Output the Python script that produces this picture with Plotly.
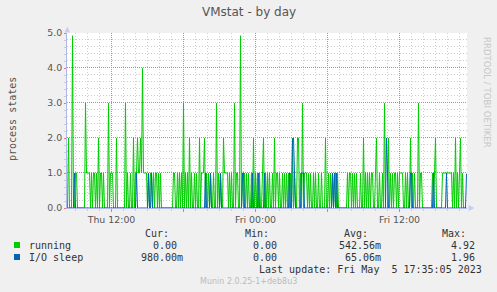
import datetime as dt
import plotly.graph_objects as go

# ---------------- data (5-minute samples, Thu 4 May 2023 08:20 -> Fri 5 May 17:35) -------------
start_time = dt.datetime(2023, 5, 4, 8, 20)
step_minutes = 5

running = [
    0, 2, 0, 0, 0, 4.92, 0, 0, 1, 1, 0, 0, 0, 0, 0, 0, 0, 0, 3, 1,
    1, 1, 1, 0, 1, 0, 1, 1, 0, 1, 0, 2, 0, 1, 1, 0, 1, 0, 0, 0,
    0, 3, 0, 1, 1, 1, 0, 0, 0, 2, 0, 0, 0, 0, 0, 0, 0, 0, 3, 0,
    1, 0, 0, 1, 0, 0, 2, 0, 1, 1, 2, 1, 1, 2, 1, 4, 1, 1, 1, 1,
    0, 1, 0, 1, 1, 0, 1, 0, 1, 1, 0, 1, 0, 1, 0, 0, 0, 0, 0, 0,
    0, 0, 0, 0, 0, 0, 1, 1, 0, 0, 1, 0, 1, 0, 1, 0, 3, 0, 1, 0,
    1, 0, 2, 0, 1, 0, 0, 1, 0, 1, 0, 0, 2, 0, 1, 1, 1, 2, 0, 1,
    0, 1, 0, 1, 0, 0, 1, 0, 0, 3, 0, 1, 0, 1, 0, 0, 2, 1, 1, 1,
    1, 0, 1, 0, 1, 0, 0, 3, 0, 1, 1, 0, 0, 4.92, 0, 1, 0, 1, 0, 1,
    0, 1, 0, 0, 1, 0, 2, 0, 1, 0, 1, 0, 1, 0, 0, 1, 2, 0, 1, 0,
    1, 0, 1, 0, 0, 1, 0, 2, 0, 1, 1, 0, 1, 0, 0, 1, 0, 1, 0, 1,
    0, 1, 0, 1, 0, 2, 0, 1, 0, 0, 2, 2, 0, 1, 0, 3, 0, 1, 1, 1,
    0, 1, 0, 1, 0, 0, 1, 0, 1, 0, 0, 1, 0, 0, 1, 0, 0, 0, 2, 0,
    0, 1, 0, 1, 0, 1, 0, 1, 1, 0, 1, 0, 0, 0, 0, 0, 0, 0, 0, 0,
    1, 0, 1, 1, 0, 1, 0, 1, 0, 1, 0, 0, 0, 1, 0, 0, 2, 0, 1, 0,
    1, 0, 1, 0, 1, 1, 0, 0, 1, 2, 0, 0, 1, 0, 0, 1, 0, 3, 0, 0,
    0, 2, 0, 1, 0, 1, 0, 1, 1, 0, 1, 0, 1, 1, 1, 1, 0, 0, 1, 0,
    1, 0, 0, 2, 0, 1, 0, 1, 0, 0, 0, 3, 0, 1, 1, 0, 0, 0, 0, 0,
    0, 0, 0, 0, 0, 1, 0, 1, 2, 0, 0, 0, 0, 0, 0, 1, 1, 1, 1, 1,
    1, 1, 1, 1, 1, 0, 1, 0, 2, 0, 1, 0, 1, 2, 0, 1, 0, 0, 0, 0,
]

io_sleep = [
    0, 0, 0, 0, 0, 0, 0, 1, 0, 0, 0, 0, 0, 0, 0, 0, 0, 0, 0, 0,
    0, 0, 0, 0, 0, 0, 0, 0, 0, 0, 0, 0, 0, 0, 0, 0, 0, 0, 0, 0,
    0, 0, 0, 0, 0, 0, 0, 0, 0, 0, 0, 0, 0, 0, 0, 0, 0, 0, 0, 0,
    0, 0, 0, 0, 0, 0, 0, 0, 0, 1, 0, 0, 0, 0, 0, 0, 0, 0, 0, 0,
    0, 1, 0, 0, 1, 0, 0, 0, 0, 0, 0, 0, 0, 0, 0, 0, 0, 0, 0, 0,
    0, 0, 0, 0, 0, 0, 0, 0, 0, 0, 0, 0, 0, 0, 0, 0, 0, 0, 0, 0,
    0, 0, 0, 0, 0, 0, 0, 0, 0, 0, 0, 0, 0, 0, 0, 0, 0, 0, 1, 0,
    0, 0, 0, 1, 0, 0, 0, 0, 0, 0, 0, 0, 0, 1, 0, 0, 0, 0, 0, 0,
    0, 0, 0, 0, 0, 0, 0, 0, 0, 0, 0, 0, 0, 0, 0, 1, 1, 0, 0, 0,
    0, 0, 0, 0, 0, 1, 0, 0, 0, 0, 0, 1, 0, 0, 0, 0, 0, 1, 0, 0,
    0, 0, 0, 0, 0, 0, 0, 0, 0, 0, 0, 0, 0, 0, 0, 0, 0, 0, 0, 0,
    0, 0, 1, 0, 0, 1.96, 2, 1, 0, 0, 0, 0, 0, 0, 1, 1, 1, 0, 0, 0,
    0, 0, 0, 0, 0, 0, 0, 0, 0, 0, 0, 0, 0, 0, 0, 0, 0, 0, 0, 0,
    0, 0, 0, 0, 0, 1, 0, 1, 0, 1, 0, 0, 0, 0, 0, 0, 0, 0, 0, 0,
    0, 0, 0, 0, 0, 0, 0, 0, 0, 0, 0, 0, 0, 0, 0, 0, 0, 0, 0, 0,
    0, 0, 0, 0, 0, 0, 0, 0, 0, 0, 0, 0, 0, 0, 0, 0, 0, 0, 0, 2,
    1, 0, 0, 0, 0, 0, 0, 0, 0, 0, 0, 0, 0, 0, 0, 0, 0, 0, 0, 0,
    0, 0, 0, 1, 1, 0, 0, 0, 0, 0, 0, 0, 0, 0, 0, 0, 0, 0, 0, 0,
    0, 0, 0, 0, 0, 0, 1, 0, 0, 0, 0, 0, 0, 0, 0, 0, 0, 0, 0, 1,
    0, 0, 0, 0, 0, 0, 0, 0, 0, 0, 0, 0, 0, 0, 0, 0, 0, 0, 0, 0.98,
]

series_names = ["running", "I/O sleep"]
series_colors = ["#00CC00", "#0066B3"]
stat_headers = ["Cur:", "Min:", "Avg:", "Max:"]
stats_running = ["0.00", "0.00", "542.56m", "4.92"]
stats_io = ["980.00m", "0.00", "65.06m", "1.96"]
x_tickvals = ["2023-05-04 12:00", "2023-05-04 18:00", "2023-05-05 00:00",
              "2023-05-05 06:00", "2023-05-05 12:00"]
x_ticktext = ["Thu 12:00", "", "Fri 00:00", "", "Fri 12:00"]
y_tickvals = [0, 1, 2, 3, 4, 5]
y_range = [0, 5]
title_text = "VMstat - by day"
y_label = "process states"
last_update = "Last update: Fri May  5 17:35:05 2023"
version_text = "Munin 2.0.25-1+deb8u3"
watermark = "RRDTOOL / TOBI OETIKER"

# ---------------- layout geometry (pixels) ----------------
W, H = 497, 292
PL, PR, PT, PB = 67, 467, 33, 208   # plot area edges

def px(x):
    return (x - PL) / (PR - PL)

def py(y):
    return (PB - y) / (PB - PT)

times = [start_time + dt.timedelta(minutes=step_minutes * i) for i in range(len(running))]
half = dt.timedelta(minutes=step_minutes / 2)
x_range = [times[0] - half, times[-1] + half]

fig = go.Figure()
fig.add_trace(go.Scatter(x=times, y=running, mode="lines",
                         line=dict(color=series_colors[0], width=1), hoverinfo="skip"))
fig.add_trace(go.Scatter(x=times, y=io_sleep, mode="lines",
                         line=dict(color=series_colors[1], width=1), hoverinfo="skip"))

MAJ = "#FF7070"
MIN = "#CDCDCD"
AXC = "#AEB8EA"
tick_font = dict(family="DejaVu Sans", size=9.4, color="#555555")

fig.update_layout(
    width=W, height=H,
    margin=dict(l=PL, r=W - PR, t=PT, b=H - PB, pad=0),
    paper_bgcolor="#F0F0F0", plot_bgcolor="rgba(0,0,0,0)",
    showlegend=False,
    xaxis=dict(
        type="date", range=x_range, tickvals=x_tickvals, ticktext=x_ticktext,
        showgrid=False,
        ticks="outside", ticklen=3, tickcolor=MAJ, tickfont=tick_font,
        showline=True, linecolor=AXC, linewidth=1, zeroline=False,
        minor=dict(dtick=3600000, tick0="2023-05-04 00:00", showgrid=False,
                   ticks="outside", ticklen=2, tickcolor=MIN),
        fixedrange=True,
    ),
    yaxis=dict(
        range=y_range, tickvals=y_tickvals, tickformat=".1f",
        showgrid=False,
        ticks="outside", ticklen=2, tickcolor=MAJ, tickfont=tick_font,
        showline=True, linecolor=AXC, linewidth=1, zeroline=False,
        minor=dict(dtick=0.2, tick0=0, showgrid=False,
                   ticks="outside", ticklen=2, tickcolor=MIN),
        fixedrange=True,
    ),
)

ann = []
def text(x, y, s, size=10, family="DejaVu Sans Mono", color="#333333", xanchor="left", angle=0):
    ann.append(dict(x=px(x), y=py(y), xref="paper", yref="paper", text=s, showarrow=False,
                    xanchor=xanchor, yanchor="middle", textangle=angle,
                    font=dict(family=family, size=size, color=color)))

text(248.5, 12, title_text, size=12, family="DejaVu Sans", color="#555555", xanchor="center")
text(12, 119, y_label, size=10, family="DejaVu Sans Mono", color="#555555", xanchor="center", angle=-90)
text(487, 92, watermark, size=8.6, family="DejaVu Sans", color="#C8C8C8", xanchor="center", angle=90)

header_right = [171, 271, 370, 468]
value_right = [[179, 279, 383, 477], [185, 279, 383, 477]]
for hx, h in zip(header_right, stat_headers):
    text(hx, 233.5, h, xanchor="right")
text(27, 245.5, series_names[0])
text(27, 257.5, series_names[1])
for vx, v in zip(value_right[0], stats_running):
    text(vx, 245.5, v, xanchor="right")
for vx, v in zip(value_right[1], stats_io):
    text(vx, 257.5, v, xanchor="right")
text(483.5, 269.5, last_update, xanchor="right")
text(248.5, 281, version_text, size=8, family="DejaVu Sans", color="#BBBBBB", xanchor="center")

shapes = []
# white canvas of the plot area, then grid lines on it (all under the traces)
shapes.append(dict(type="rect", xref="paper", yref="paper", x0=0, x1=1, y0=0, y1=1,
                   layer="below", fillcolor="#FFFFFF", line=dict(width=0)))
half_px_y = 0.5 / (PB - PT) * (y_range[1] - y_range[0])   # align 1px lines to pixel rows
hour_ticks = [dt.datetime(2023, 5, 4, 9) + dt.timedelta(hours=h) for h in range(33)]
major_x = [dt.datetime.fromisoformat(v) for v in x_tickvals]
for t in hour_ticks:
    if t in major_x:
        continue
    shapes.append(dict(type="line", xref="x", yref="paper", x0=t, x1=t, y0=0, y1=1,
                       layer="below", line=dict(color=MIN, width=1, dash="1px,2px")))
for k in range(1, 26):
    v = k * 0.2
    if k % 5 == 0:
        continue
    shapes.append(dict(type="line", xref="paper", yref="y", x0=0, x1=1,
                       y0=v + half_px_y, y1=v + half_px_y,
                       layer="below", line=dict(color=MIN, width=1, dash="1px,2px")))
for t in major_x:
    shapes.append(dict(type="line", xref="x", yref="paper", x0=t, x1=t, y0=0, y1=1,
                       layer="below", line=dict(color=MAJ, width=1, dash="1px,1px")))
for tv in y_tickvals[1:]:
    shapes.append(dict(type="line", xref="paper", yref="y", x0=0, x1=1,
                       y0=tv + half_px_y, y1=tv + half_px_y,
                       layer="below", line=dict(color=MAJ, width=1, dash="1px,1px")))
for i, yy in enumerate([242, 254]):
    shapes.append(dict(type="rect", xref="paper", yref="paper",
                       x0=px(14), x1=px(20), y0=py(yy + 6), y1=py(yy),
                       fillcolor=series_colors[i], line=dict(width=0)))
# axis arrows
def path(points):
    return "M " + " L ".join(f"{px(a)},{py(b)}" for a, b in points) + " Z"
shapes.append(dict(type="path", xref="paper", yref="paper",
                   path=path([(64.5, 32.5), (70, 32.5), (67.3, 26.5)]),
                   fillcolor="#C6CCF5", line=dict(width=0)))
shapes.append(dict(type="path", xref="paper", yref="paper",
                   path=path([(468.5, 205), (468.5, 211), (474.5, 208)]),
                   fillcolor="#C6CCF5", line=dict(width=0)))

fig.update_layout(annotations=ann, shapes=shapes)
fig.write_html("out.html", config={"displayModeBar": False})
